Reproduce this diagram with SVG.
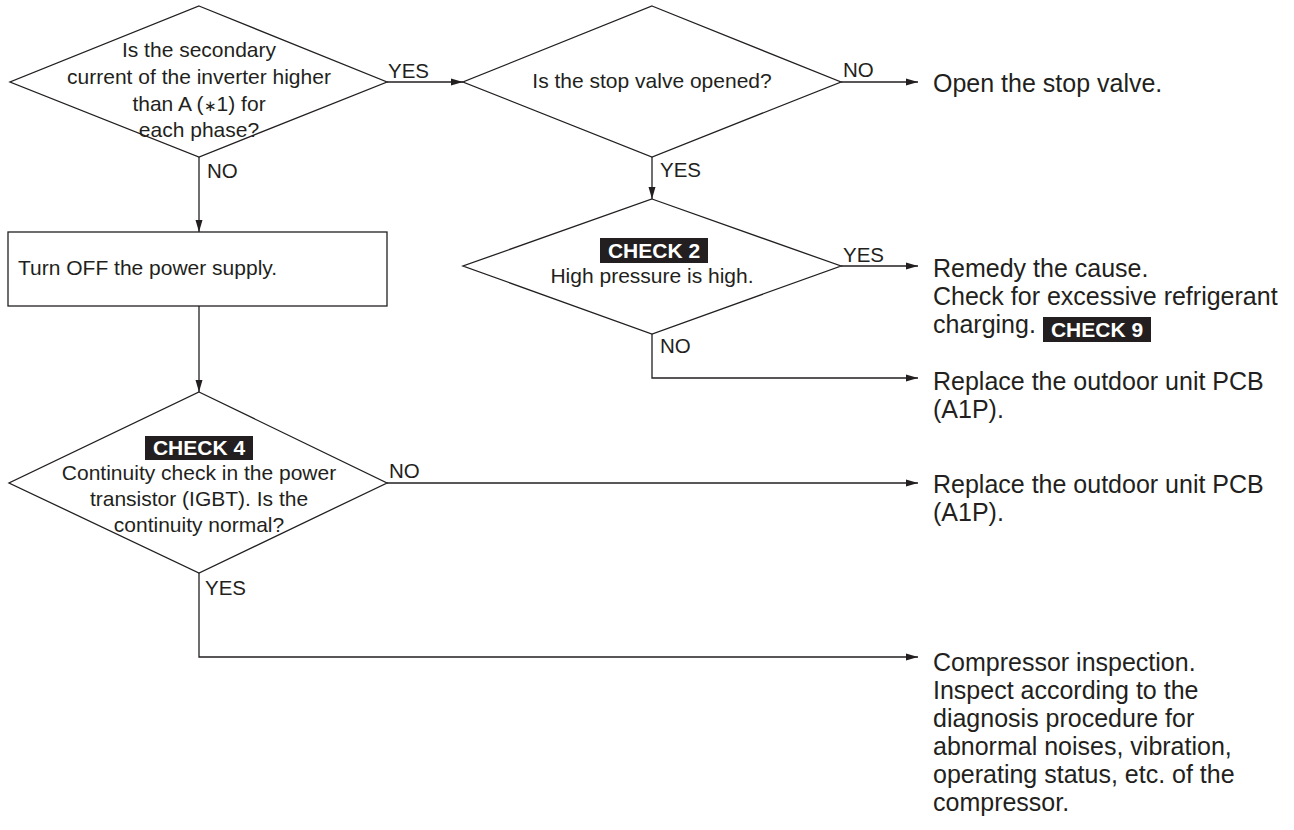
<svg xmlns="http://www.w3.org/2000/svg" width="1294" height="830" viewBox="0 0 1294 830">
<style>
text{font-family:"Liberation Sans",Arial,Helvetica,sans-serif;fill:#231f20}
.d{font-size:21px;text-anchor:middle}
.l{font-size:20.5px}
.r{font-size:25px}
.b{font-size:21px;font-weight:bold;fill:#fff;text-anchor:middle}
.shape{fill:#fff;stroke:#231f20;stroke-width:1.3}
.badge{fill:#231f20}
.conn{fill:none;stroke:#231f20;stroke-width:1.3}
</style>
<defs>
<marker id="ah" markerUnits="userSpaceOnUse" markerWidth="13" markerHeight="8" refX="12" refY="4" orient="auto">
<path d="M0,0.5 L12,4 L0,7.5 z" fill="#231f20"/>
</marker>
</defs>
<rect width="1294" height="830" fill="#fff"/>
<g id="connectors">
<path class="conn" d="M387,82 H463" marker-end="url(#ah)"/>
<path class="conn" d="M841,82 H918" marker-end="url(#ah)"/>
<path class="conn" d="M652,157 V199" marker-end="url(#ah)"/>
<path class="conn" d="M841,266 H918" marker-end="url(#ah)"/>
<path class="conn" d="M652,334 V378 H918" marker-end="url(#ah)"/>
<path class="conn" d="M199,157 V232" marker-end="url(#ah)"/>
<path class="conn" d="M199,306 V392" marker-end="url(#ah)"/>
<path class="conn" d="M387,483 H918" marker-end="url(#ah)"/>
<path class="conn" d="M199,573 V657 H918" marker-end="url(#ah)"/>
<text class="l" x="388" y="78">YES</text>
<text class="l" x="207" y="178">NO</text>
<text class="l" x="843" y="77">NO</text>
<text class="l" x="660" y="177">YES</text>
<text class="l" x="843" y="262">YES</text>
<text class="l" x="660" y="353">NO</text>
<text class="l" x="389" y="478">NO</text>
<text class="l" x="205" y="595">YES</text>
</g>
<g id="q1">
<polygon class="shape" points="199,6 387,82 199,157 10,82"/>
<text class="d" x="199" y="57">Is the secondary</text>
<text class="d" x="199" y="84">current of the inverter higher</text>
<text class="d" x="199" y="111">than A (<tspan style="font-size:15px">∗</tspan>1) for</text>
<text class="d" x="199" y="137">each phase?</text>
</g>
<g id="q2">
<polygon class="shape" points="652,6 841,82 652,157 463,82"/>
<text class="d" x="652" y="88">Is the stop valve opened?</text>
</g>
<g id="q3">
<polygon class="shape" points="652,199 841,266 652,334 463,266"/>
<rect class="badge" x="600" y="238" width="108" height="25"/>
<text class="b" x="654" y="258">CHECK 2</text>
<text class="d" x="652" y="283">High pressure is high.</text>
</g>
<g id="box1">
<rect class="shape" x="8" y="232" width="379" height="74"/>
<text style="font-size:21px" x="18" y="275">Turn OFF the power supply.</text>
</g>
<g id="q4">
<polygon class="shape" points="199,392 387,483 199,573 9,483"/>
<rect class="badge" x="145" y="436" width="108" height="24"/>
<text class="b" x="199" y="455">CHECK 4</text>
<text class="d" x="199" y="480">Continuity check in the power</text>
<text class="d" x="199" y="506">transistor (IGBT). Is the</text>
<text class="d" x="199" y="532">continuity normal?</text>
</g>
<g id="r1">
<text class="r" x="933" y="92">Open the stop valve.</text>
</g>
<g id="r2">
<text class="r" x="933" y="277">Remedy the cause.</text>
<text class="r" x="933" y="305">Check for excessive refrigerant</text>
<text class="r" x="933" y="333">charging.</text>
<rect class="badge" x="1043" y="317" width="108" height="25"/>
<text class="b" x="1097" y="337">CHECK 9</text>
</g>
<g id="r3">
<text class="r" x="933" y="390">Replace the outdoor unit PCB</text>
<text class="r" x="933" y="418">(A1P).</text>
</g>
<g id="r4">
<text class="r" x="933" y="493">Replace the outdoor unit PCB</text>
<text class="r" x="933" y="521">(A1P).</text>
</g>
<g id="r5">
<text class="r" x="933" y="671">Compressor inspection.</text>
<text class="r" x="933" y="699">Inspect according to the</text>
<text class="r" x="933" y="727">diagnosis procedure for</text>
<text class="r" x="933" y="755">abnormal noises, vibration,</text>
<text class="r" x="933" y="783">operating status, etc. of the</text>
<text class="r" x="933" y="811">compressor.</text>
</g>
</svg>
